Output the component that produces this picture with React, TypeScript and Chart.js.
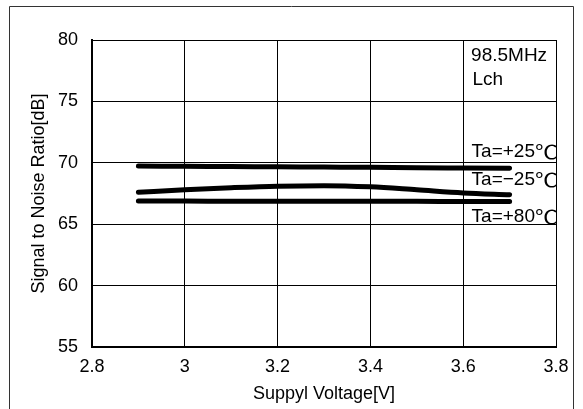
import React, { useEffect, useRef } from "react";
import { Chart, registerables } from "chart.js";

Chart.register(...registerables);

// Supply voltage sample points [V]
const voltage = [2.9, 3.0, 3.1, 3.2, 3.3, 3.4, 3.5, 3.6, 3.7];
// S/N ratio [dB] per ambient temperature
const snrTa25 = [69.73, 69.71, 69.69, 69.67, 69.65, 69.63, 69.6, 69.58, 69.56];
const snrTaMinus25 = [67.6, 67.8, 67.97, 68.1, 68.14, 68.04, 67.8, 67.55, 67.4];
const snrTa80 = [66.88, 66.88, 66.87, 66.87, 66.86, 66.86, 66.86, 66.85, 66.85];

const xTickLabels = ["2.8", "3", "3.2", "3.4", "3.6", "3.8"];
const yTickLabels = ["55", "60", "65", "70", "75", "80"];

const seriesLabels = ["Ta=+25℃", "Ta=−25℃", "Ta=+80℃"];
const conditionLabels = ["98.5MHz", "Lch"];

const FONT = "'Liberation Sans', 'Noto Sans CJK JP', sans-serif";
const CJK_FONT = "'Noto Sans CJK JP', sans-serif";

const toPoints = (ys: number[]) => voltage.map((x, i) => ({ x, y: ys[i] }));

// Temperature label right-aligned at x; the degree sign is set full width
function drawTempLabel(ctx: CanvasRenderingContext2D, text: string, x: number, y: number) {
  const unit = text.slice(-1);
  const head = text.slice(0, -1);
  const unitWidth = 23;
  ctx.font = `19px ${CJK_FONT}`;
  const natural = ctx.measureText(unit).width || unitWidth;
  ctx.save();
  ctx.translate(x - unitWidth, y);
  ctx.scale(unitWidth / natural, 1);
  ctx.textAlign = "left";
  ctx.fillText(unit, 0, 0);
  ctx.restore();
  ctx.font = `19px ${FONT}`;
  ctx.textAlign = "right";
  ctx.fillText(head, x - unitWidth, y);
}

// Outer frame and in-plot text labels
const decorations = {
  id: "decorations",
  beforeDraw(chart: any) {
    const ctx = chart.ctx;
    ctx.save();
    ctx.fillStyle = "#ffffff";
    ctx.fillRect(0, 0, chart.width, chart.height);
    ctx.strokeStyle = "#333333";
    ctx.lineWidth = 1;
    ctx.beginPath();
    ctx.moveTo(9.5, chart.height + 2);
    ctx.lineTo(9.5, 6.5);
    ctx.lineTo(573.5, 6.5);
    ctx.lineTo(573.5, chart.height + 2);
    ctx.stroke();
    ctx.restore();
  },
  afterDatasetsDraw(chart: any) {
    const ctx = chart.ctx;
    const xs = chart.scales.x;
    const ys = chart.scales.y;
    ctx.save();
    ctx.fillStyle = "#000000";
    ctx.font = `19px ${FONT}`;
    ctx.textBaseline = "middle";
    ctx.textAlign = "left";
    ctx.fillText(conditionLabels[0], xs.getPixelForValue(3.617), ys.getPixelForValue(78.7));
    ctx.fillText(conditionLabels[1], xs.getPixelForValue(3.62), ys.getPixelForValue(76.8));
    const right = xs.getPixelForValue(3.8) + 2;
    drawTempLabel(ctx, seriesLabels[0], right, ys.getPixelForValue(70.9));
    drawTempLabel(ctx, seriesLabels[1], right, ys.getPixelForValue(68.6));
    drawTempLabel(ctx, seriesLabels[2], right, ys.getPixelForValue(65.6));
    ctx.restore();
  },
};

export default function App() {
  const canvasRef = useRef<HTMLCanvasElement>(null);

  useEffect(() => {
    const canvas = canvasRef.current;
    if (!canvas) return;
    const lineStyle = {
      borderColor: "#000000",
      borderWidth: 5,
      pointRadius: 0,
      fill: false,
      borderCapStyle: "round" as const,
      cubicInterpolationMode: "monotone" as const,
    };
    const chart = new Chart(canvas, {
      type: "line",
      data: {
        datasets: [
          { label: seriesLabels[0], data: toPoints(snrTa25), ...lineStyle },
          { label: seriesLabels[1], data: toPoints(snrTaMinus25), ...lineStyle },
          { label: seriesLabels[2], data: toPoints(snrTa80), ...lineStyle },
        ],
      },
      options: {
        animation: false,
        responsive: false,
        maintainAspectRatio: false,
        layout: { padding: { left: 0, top: 40, right: 27, bottom: 0 } },
        plugins: { legend: { display: false }, tooltip: { enabled: false } },
        scales: {
          x: {
            type: "linear",
            min: 2.8,
            max: 3.8,
            afterBuildTicks: (scale: any) => {
              scale.ticks = xTickLabels.map((t) => ({ value: parseFloat(t) }));
            },
            afterFit: (scale: any) => {
              scale.height = 62;
            },
            ticks: {
              color: "#000000",
              font: { family: FONT, size: 18 },
              padding: 9,
              maxRotation: 0,
              callback: (v: any) => xTickLabels.find((t) => parseFloat(t) === v) ?? "",
            },
            grid: { color: "#000000", lineWidth: 1, drawTicks: false },
            border: { color: "#000000", width: 2 },
            title: {
              display: true,
              text: "Suppyl Voltage[V]",
              color: "#000000",
              font: { family: FONT, size: 18 },
              padding: { top: 0, bottom: 4 },
            },
          },
          y: {
            type: "linear",
            min: 55,
            max: 80,
            afterBuildTicks: (scale: any) => {
              scale.ticks = yTickLabels.map((t) => ({ value: parseFloat(t) }));
            },
            afterFit: (scale: any) => {
              scale.width = 92;
            },
            ticks: {
              color: "#000000",
              font: { family: FONT, size: 18 },
              padding: 14,
              callback: (v: any) => yTickLabels.find((t) => parseFloat(t) === v) ?? "",
            },
            grid: { color: "#000000", lineWidth: 1, drawTicks: false },
            border: { color: "#000000", width: 2 },
            title: {
              display: true,
              text: "Signal to Noise Ratio[dB]",
              color: "#000000",
              font: { family: FONT, size: 18 },
              padding: { top: 28, bottom: 0 },
            },
          },
        },
      },
      plugins: [decorations],
    });
    return () => chart.destroy();
  }, []);

  return (
    <div style={{ position: "fixed", left: 0, top: 0, width: 583, height: 409, background: "#fff" }}>
      <canvas ref={canvasRef} width={583} height={409} style={{ width: 583, height: 409 }} />
    </div>
  );
}
